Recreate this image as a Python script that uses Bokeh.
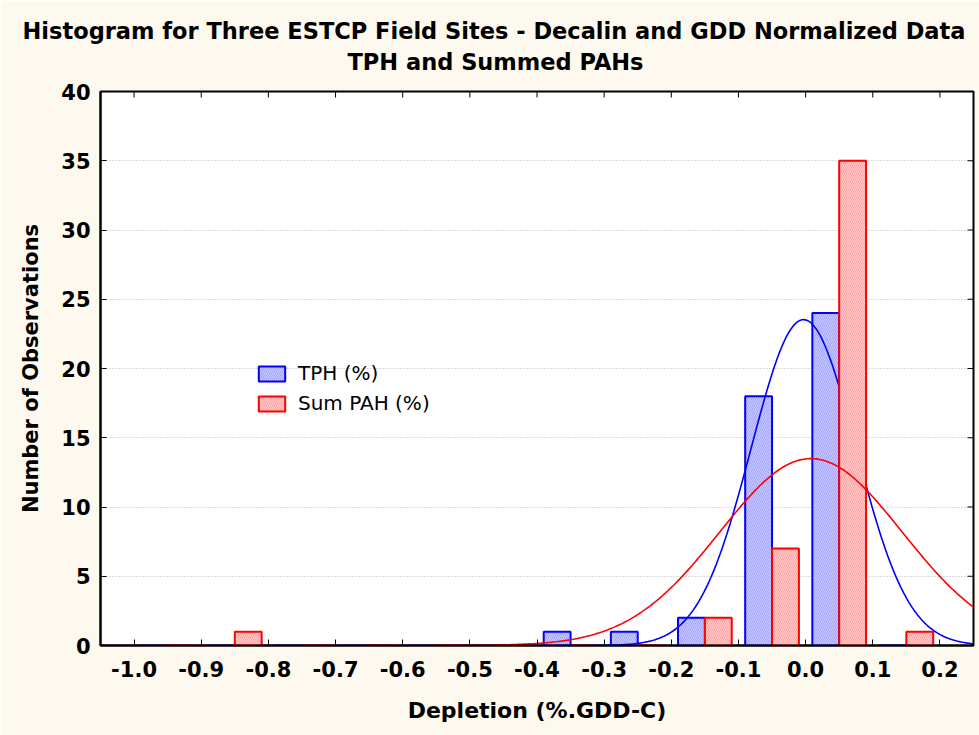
import numpy as np
from bokeh.plotting import figure
from bokeh.models import (Range1d, FixedTicker, PrintfTickFormatter, Title,
                          Legend, LegendItem, ColumnDataSource)
from bokeh.embed import file_html
from bokeh.resources import INLINE

# ---------------- data ----------------
title_line1 = "Histogram for Three ESTCP Field Sites - Decalin and GDD Normalized Data"
title_line2 = "TPH and Summed PAHs"
x_title = "Depletion (%.GDD-C)"
y_title = "Number of Observations"
series_names = ["TPH (%)", "Sum PAH (%)"]

bin_centers = [-0.95, -0.85, -0.75, -0.65, -0.55, -0.45, -0.35, -0.25, -0.15, -0.05, 0.05, 0.15]
tph_counts = [0, 0, 0, 0, 0, 0, 1, 1, 2, 18, 24, 0]
pah_counts = [0, 1, 0, 0, 0, 0, 0, 0, 2, 7, 35, 1]

x_ticks = [-1.0, -0.9, -0.8, -0.7, -0.6, -0.5, -0.4, -0.3, -0.2, -0.1, 0.0, 0.1, 0.2]
y_ticks = [0, 5, 10, 15, 20, 25, 30, 35, 40]

# fitted normal curves (mean, sd)
tph_mean, tph_sd = -0.003, 0.078
pah_mean, pah_sd = 0.008, 0.136
bin_width = 0.1

x_min, x_max = -1.05, 0.25
y_min, y_max = 0, 40

# ---------------- style ----------------
BG = "#fdf9ee"
FONT = "DejaVu Sans"
BLUE = "#0000ff"
RED = "#ff0000"
BLUE_FILL = "#cbcbff"
RED_FILL = "#ffcbcb"

W, H = 979, 735
p = figure(width=W, height=H, output_backend="svg", toolbar_location=None,
           x_range=Range1d(x_min, x_max), y_range=Range1d(y_min, y_max),
           min_border_left=100, min_border_right=6, min_border_top=91, min_border_bottom=90,
           background_fill_color="white", border_fill_color=BG,
           outline_line_color="black", outline_line_width=2)

p.xgrid.grid_line_color = None
p.ygrid.ticker = FixedTicker(ticks=y_ticks)
p.ygrid.grid_line_color = "#b8b8b8"
p.ygrid.grid_line_dash = "1 2"
p.ygrid.grid_line_width = 1

xa = p.xaxis[0]
xa.ticker = FixedTicker(ticks=x_ticks)
xa.formatter = PrintfTickFormatter(format="%.1f")
ya = p.yaxis[0]
ya.ticker = FixedTicker(ticks=y_ticks)
for ax in (xa, ya):
    ax.major_label_text_font = FONT
    ax.major_label_text_font_style = "bold"
    ax.major_label_text_font_size = "21px"
    ax.major_label_text_color = "black"
    ax.axis_line_color = "black"
    ax.axis_line_width = 2
    ax.major_tick_in = 6
    ax.major_tick_out = 0
    ax.major_tick_line_color = "black"
    ax.minor_tick_line_color = None
    ax.axis_label_text_font = FONT
    ax.axis_label_text_font_style = "bold"
    ax.axis_label_text_color = "black"
xa.major_label_standoff = 15
ya.major_label_standoff = 10
xa.axis_label = x_title
xa.axis_label_text_font_size = "22px"
xa.axis_label_standoff = 18
ya.axis_label = y_title
ya.axis_label_text_font_size = "21px"
ya.axis_label_standoff = 15

# inward ticks on the top and right edges
p.ray(x=x_ticks, y=[y_max] * len(x_ticks), length=6, length_units="screen",
      angle=-np.pi / 2, line_color="black", line_width=1)
p.ray(x=[x_max] * len(y_ticks), y=y_ticks, length=6, length_units="screen",
      angle=np.pi, line_color="black", line_width=1)

# ---------------- bars ----------------
half = bin_width * 0.2
bar_w = bin_width * 0.4
tph_src = ColumnDataSource(dict(x=[c - half for c in bin_centers], top=tph_counts))
pah_src = ColumnDataSource(dict(x=[c + half for c in bin_centers], top=pah_counts))

xs = np.linspace(x_min, x_max, 500)
n_tph = sum(tph_counts)
n_pah = sum(pah_counts)
tph_curve = n_tph * bin_width / (tph_sd * np.sqrt(2 * np.pi)) * np.exp(-0.5 * ((xs - tph_mean) / tph_sd) ** 2)
pah_curve = n_pah * bin_width / (pah_sd * np.sqrt(2 * np.pi)) * np.exp(-0.5 * ((xs - pah_mean) / pah_sd) ** 2)

r_tph = p.vbar(x="x", top="top", bottom=0, width=bar_w, source=tph_src,
               fill_color=BLUE_FILL, line_color=BLUE, line_width=2,
               hatch_pattern="left_diagonal_line", hatch_color="#7070ff",
               hatch_alpha=0.45, hatch_scale=4, hatch_weight=1)
p.line(xs, tph_curve, line_color=BLUE, line_width=1.6)
r_pah = p.vbar(x="x", top="top", bottom=0, width=bar_w, source=pah_src,
               fill_color=RED_FILL, line_color=RED, line_width=2,
               hatch_pattern="left_diagonal_line", hatch_color="#ff7070",
               hatch_alpha=0.45, hatch_scale=4, hatch_weight=1)
p.line(xs, pah_curve, line_color=RED, line_width=1.6)

legend = Legend(items=[LegendItem(label=series_names[0], renderers=[r_tph]),
                       LegendItem(label=series_names[1], renderers=[r_pah])],
                location=(155, 230), margin=0, padding=0, spacing=6,
                glyph_width=33, glyph_height=19, label_standoff=10,
                label_text_font=FONT, label_text_font_size="20px",
                label_text_color="black", border_line_color=None,
                background_fill_alpha=0)
p.add_layout(legend, "center")

# ---------------- titles ----------------
p.add_layout(Title(text=title_line2, align="left", offset=247, standoff=34,
                   text_font=FONT, text_font_style="bold", text_font_size="22.5px",
                   text_color="black"), "above")
p.add_layout(Title(text=title_line1, align="left", offset=-78, standoff=-28,
                   text_font=FONT, text_font_style="bold", text_font_size="22.5px",
                   text_color="black"), "above")

html = file_html(p, INLINE)
html = html.replace("<body>", '<body style="background:%s;">' % BG, 1)
open("out.html", "w").write(html)
